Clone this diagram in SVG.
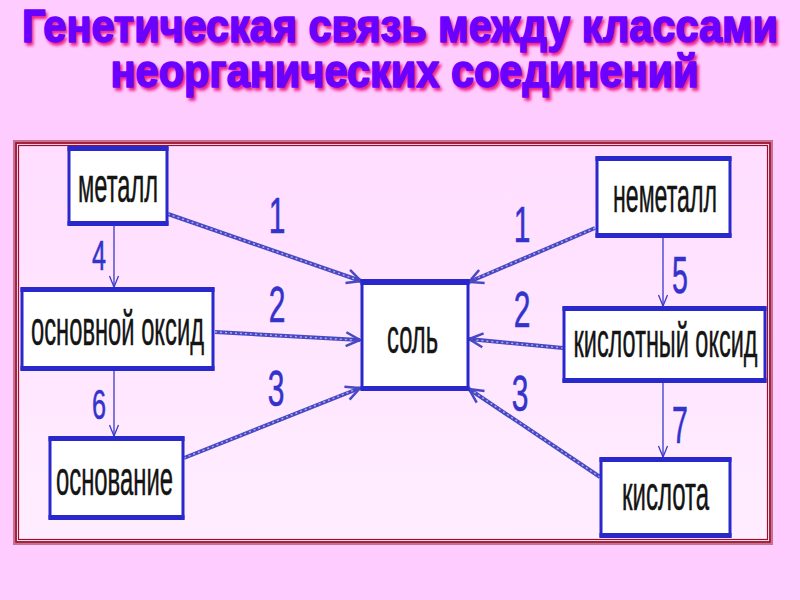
<svg xmlns="http://www.w3.org/2000/svg" width="800" height="600" viewBox="0 0 800 600">
  <defs>
    <linearGradient id="inner" x1="0" y1="0" x2="0" y2="1">
      <stop offset="0" stop-color="#FFDDFF"/>
      <stop offset="1" stop-color="#FFEEFF"/>
    </linearGradient>
    <filter id="blur" x="-10%" y="-40%" width="120%" height="180%">
      <feGaussianBlur stdDeviation="1.5"/>
    </filter>
    <marker id="big" viewBox="-16 -9 18 18" refX="0" refY="0" markerWidth="18" markerHeight="18" markerUnits="userSpaceOnUse" orient="auto">
      <path d="M -14 -7 L 0 0 L -14 7" fill="none" stroke="#4848C4" stroke-width="2.5"/>
    </marker>
    <marker id="small" viewBox="-12 -6 14 12" refX="0" refY="0" markerWidth="14" markerHeight="12" markerUnits="userSpaceOnUse" orient="auto">
      <path d="M -11 -4.5 L 0 0 L -11 4.5" fill="none" stroke="#3A3AC8" stroke-width="1.3"/>
    </marker>
    <style>
      .title { font-family: "Liberation Sans", Arial, sans-serif; font-weight: bold; font-size: 46px; text-anchor: middle; stroke-linejoin: round; }
      .tmain { fill: #6A00FF; stroke: #6A00FF; stroke-width: 1.6px; }
      .tshadow { fill: #F0208C; stroke: #F0208C; stroke-width: 1.6px; }
      .box { fill: #FFFFFF; stroke: #2828CC; stroke-width: 3; }
      .bar { fill: #2828CC; }
      .lbl { font-family: "Liberation Sans", Arial, sans-serif; font-size: 48px; fill: #141414; stroke: #141414; stroke-width: 0.5px; text-anchor: middle; }
      .num { font-family: "Liberation Sans", Arial, sans-serif; fill: #3333CC; stroke: #3333CC; stroke-width: 0.6px; text-anchor: middle; }
      .thick { fill: none; stroke: #4848C4; stroke-width: 4; }
      .tex { fill: none; stroke: #A8A8E8; stroke-width: 1.5; stroke-dasharray: 2 3; }
      .thin { fill: none; stroke: #3A3AC8; stroke-width: 1.3; }
    </style>
  </defs>

  <rect x="0" y="0" width="800" height="600" fill="#FFCCFF"/>

  <g id="title">
    <g filter="url(#blur)">
      <text class="title tshadow" x="402" y="45" textLength="756" lengthAdjust="spacingAndGlyphs">Генетическая связь между классами</text>
      <text class="title tshadow" x="407" y="90" textLength="588" lengthAdjust="spacingAndGlyphs">неорганических соединений</text>
    </g>
    <text class="title tmain" x="400" y="42" textLength="756" lengthAdjust="spacingAndGlyphs">Генетическая связь между классами</text>
    <text class="title tmain" x="404.5" y="87" textLength="588" lengthAdjust="spacingAndGlyphs">неорганических соединений</text>
  </g>

  <g id="frame">
    <rect x="14" y="141" width="758" height="403" fill="url(#inner)" stroke="#C87090" stroke-width="2"/>
    <rect x="16" y="143" width="754" height="399" fill="none" stroke="#99102A" stroke-width="1.8"/>
    <rect x="18.5" y="145.5" width="749" height="394" fill="none" stroke="#99102A" stroke-width="1.2"/>
  </g>

  <g id="connectors">
    <path class="thick" d="M168 214 L361 281" marker-end="url(#big)"/>
    <path class="tex" d="M168 214 L355 279"/>
    <path class="thick" d="M215 332 L360 340" marker-end="url(#big)"/>
    <path class="tex" d="M215 332 L354 340"/>
    <path class="thick" d="M184 458 L360 388" marker-end="url(#big)"/>
    <path class="tex" d="M184 458 L354 390"/>
    <path class="thick" d="M595 228 L469 282" marker-end="url(#big)"/>
    <path class="tex" d="M595 228 L475 279"/>
    <path class="thick" d="M563 348 L469 339" marker-end="url(#big)"/>
    <path class="tex" d="M563 348 L475 340"/>
    <path class="thick" d="M600 477 L469 389" marker-end="url(#big)"/>
    <path class="tex" d="M600 477 L474 392"/>
    <path class="thin" d="M114 226 L114 287" marker-end="url(#small)"/>
    <path class="thin" d="M114 371 L114 436" marker-end="url(#small)"/>
    <path class="thin" d="M663 238 L663 306" marker-end="url(#small)"/>
    <path class="thin" d="M663 383 L663 457" marker-end="url(#small)"/>
  </g>

  <g id="numbers">
    <text class="num" font-size="50" transform="translate(277,233) scale(0.6,1)">1</text>
    <text class="num" font-size="50" transform="translate(277,322) scale(0.6,1)">2</text>
    <text class="num" font-size="50" transform="translate(276,406) scale(0.6,1)">3</text>
    <text class="num" font-size="50" transform="translate(522,242) scale(0.6,1)">1</text>
    <text class="num" font-size="50" transform="translate(522,327) scale(0.6,1)">2</text>
    <text class="num" font-size="50" transform="translate(520,411) scale(0.6,1)">3</text>
    <text class="num" font-size="42" transform="translate(99,270) scale(0.6,1)">4</text>
    <text class="num" font-size="42" transform="translate(99,419) scale(0.6,1)">6</text>
    <text class="num" font-size="52" transform="translate(680,293) scale(0.55,1)">5</text>
    <text class="num" font-size="52" transform="translate(680,443) scale(0.55,1)">7</text>
  </g>

  <g id="metal">
    <rect class="box" x="69" y="148" width="98" height="76"/>
    <rect class="bar" x="67.5" y="146" width="101" height="5"/>
    <rect class="bar" x="67.5" y="221" width="101" height="5"/>
    <text class="lbl" x="118" y="202" textLength="80" lengthAdjust="spacingAndGlyphs">металл</text>
  </g>

  <g id="basic-oxide">
    <rect class="box" x="22" y="289" width="191" height="80"/>
    <rect class="bar" x="20.5" y="287" width="194" height="5"/>
    <rect class="bar" x="20.5" y="366" width="194" height="5"/>
    <text class="lbl" x="117.5" y="345" textLength="173" lengthAdjust="spacingAndGlyphs">основной оксид</text>
  </g>

  <g id="base">
    <rect class="box" x="50" y="438" width="133" height="80"/>
    <rect class="bar" x="48.5" y="436" width="136" height="5"/>
    <rect class="bar" x="48.5" y="515" width="136" height="5"/>
    <text class="lbl" x="114.5" y="495" textLength="117" lengthAdjust="spacingAndGlyphs">основание</text>
  </g>

  <g id="salt">
    <rect class="box" x="362" y="281" width="106" height="108"/>
    <rect class="bar" x="360.5" y="279" width="109" height="6"/>
    <rect class="bar" x="360.5" y="386" width="109" height="5"/>
    <text class="lbl" x="412.5" y="353" textLength="51" lengthAdjust="spacingAndGlyphs">соль</text>
  </g>

  <g id="nonmetal">
    <rect class="box" x="597" y="158" width="133" height="78"/>
    <rect class="bar" x="595.5" y="156" width="136" height="5"/>
    <rect class="bar" x="595.5" y="233" width="136" height="5"/>
    <text class="lbl" x="665" y="212" textLength="104" lengthAdjust="spacingAndGlyphs">неметалл</text>
  </g>

  <g id="acid-oxide">
    <rect class="box" x="564" y="308" width="201" height="73"/>
    <rect class="bar" x="562.5" y="306" width="204" height="5"/>
    <rect class="bar" x="562.5" y="378" width="204" height="5"/>
    <text class="lbl" x="665.5" y="357" textLength="184" lengthAdjust="spacingAndGlyphs">кислотный оксид</text>
  </g>

  <g id="acid">
    <rect class="box" x="601" y="459" width="129" height="77"/>
    <rect class="bar" x="599.5" y="457" width="132" height="5"/>
    <rect class="bar" x="599.5" y="533" width="132" height="5"/>
    <text class="lbl" x="665.5" y="510" textLength="87" lengthAdjust="spacingAndGlyphs">кислота</text>
  </g>
</svg>
